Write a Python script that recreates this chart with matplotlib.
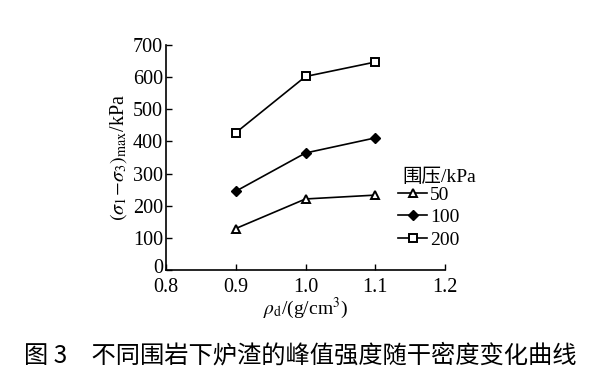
import matplotlib
matplotlib.use("Agg")
import matplotlib.pyplot as plt
import matplotlib.transforms as mtransforms

plt.rcParams['font.family'] = ['Liberation Serif', 'Noto Sans CJK SC']
plt.rcParams['mathtext.fontset'] = 'stix'

density = [0.9, 1.0, 1.1]
s50 = [129, 221, 233]
s100 = [245, 364, 411]
s200 = [427, 602, 647]
series_labels = ['50', '100', '200']
legend_title = '围压/kPa'
xticks = [0.8, 0.9, 1.0, 1.1, 1.2]
xticklabels = ['0.8', '0.9', '1.0', '1.1', '1.2']
yticks = [0, 100, 200, 300, 400, 500, 600, 700]

fig = plt.figure(figsize=(6, 3.81), dpi=100)
ax = fig.add_axes([166/600, 1 - 270/381, (445-166)/600, (270-45)/381])

kw = dict(color='black', lw=1.2, markersize=6, markeredgewidth=1.4)
ax.plot(density, s50, marker='^', markerfacecolor='white', label=series_labels[0], **kw)
ax.plot(density, s100, marker='D', markerfacecolor='black', markersize=5.5, label=series_labels[1],
        color='black', lw=1.2, markeredgewidth=1.0)
ax.plot(density, s200, marker='s', markerfacecolor='white', label=series_labels[2], **kw)

ax.set_xlim(0.8, 1.2)
ax.set_ylim(0, 700)
ax.set_xticks(xticks)
ax.set_xticklabels(xticklabels)
ax.set_yticks(yticks)
for s in ['top', 'right']:
    ax.spines[s].set_visible(False)
for s in ['left', 'bottom']:
    ax.spines[s].set_linewidth(1.2)
ax.tick_params(direction='in', length=4, width=1.0, labelsize=14.5)
ax.tick_params(axis='y', pad=2)
ax.tick_params(axis='x', pad=6)

# nudge the "0" y tick label up a little so it does not touch "0.8"
lab0 = ax.get_yticklabels()[0]
lab0.set_transform(lab0.get_transform() + mtransforms.ScaledTranslation(0, 3/72, fig.dpi_scale_trans))

ax.set_xlabel(r'$\rho_{\rm d}$/(g/cm$^3$)', fontsize=14, labelpad=-1)
ax.set_ylabel(r'$(\sigma_1\!-\!\sigma_3)_{\rm max}$/kPa', fontsize=14.5, labelpad=3)

fig.text(402/600, 1 - 177.5/381, legend_title, ha='left', va='center', fontsize=14)
leg = ax.legend(loc='upper left', bbox_to_anchor=(398/600, 1 - 186/381),
                bbox_transform=fig.transFigure, frameon=False, fontsize=14,
                handlelength=1.5, handletextpad=0.15, labelspacing=0.25,
                borderpad=0.0, borderaxespad=0.0)

fig.text(0.5, 1 - 356/381, '图 3　不同围岩下炉渣的峰值强度随干密度变化曲线',
         ha='center', va='center', fontsize=17.5, fontweight='medium',
         family=['Noto Sans CJK SC', 'DejaVu Sans'])

fig.savefig('out.png', dpi=100)
